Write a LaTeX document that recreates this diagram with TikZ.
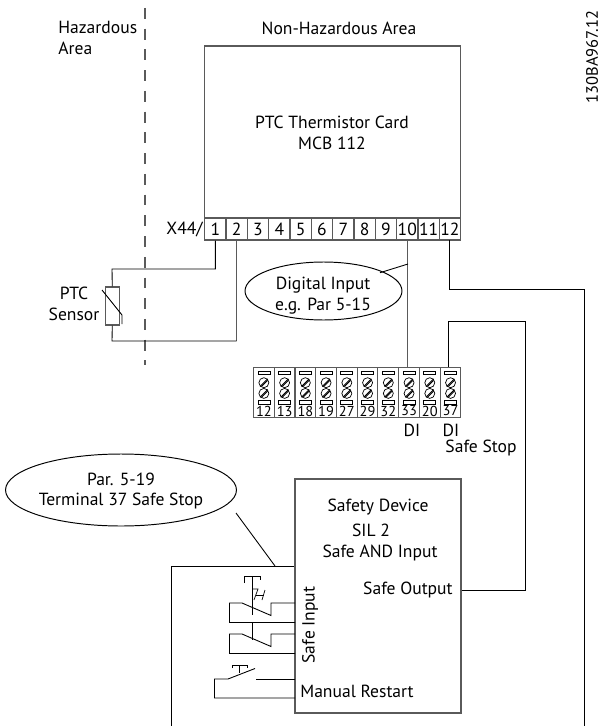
\documentclass[tikz,border=0pt]{standalone}
\usepackage{fontspec}
\setmainfont{PT Sans}
\usetikzlibrary{shapes.geometric}
\definecolor{wiregray}{RGB}{90,90,90}
\tikzset{
    wire/.style={draw=black,line width=0.5pt,line join=miter},
    grayline/.style={draw=wiregray,line width=0.8pt},
    label/.style={inner sep=0pt,font=\fontsize{10}{11.8}\selectfont,align=center},
    small/.style={inner sep=0pt,font=\fontsize{8.2}{9}\selectfont},
    bubble/.style={ellipse,draw=black,line width=0.55pt,inner sep=0pt},
    termcell/.style={rectangle,draw=wiregray,line width=0.7pt,inner sep=0pt,minimum width=21.33*0.2mm,minimum height=22*0.2mm},
    blockcell/.style={rectangle,draw=wiregray,line width=0.6pt,inner sep=0pt,minimum width=20.74*0.2mm,minimum height=50*0.2mm}
}
\begin{document}
\begin{tikzpicture}[x=0.02cm,y=-0.02cm]
    \useasboundingbox (0,0) rectangle (601,726);
    % areas
    \draw[grayline,dash pattern=on 6.2pt off 5.6pt] (145,8) -- (145,365);
    \node[label,anchor=north west,align=left] (hazard) at (58,21) {Hazardous\\Area};
    \node[label] (nonhazard) at (339,28) {Non-Hazardous Area};
    \node[label,rotate=90,font=\fontsize{9.4}{11}\selectfont] (docno) at (592,57) {130BA967.12};
    % card
    \node[rectangle,draw=wiregray,line width=0.8pt,inner sep=0pt,minimum width=256*0.2mm,minimum height=194*0.2mm] (card) at (332.5,143) {};
    \node[label] (cardname) at (332,132.5) {PTC Thermistor Card\\MCB 112};
    \node[label,anchor=east] (xlabel) at (203,229) {X44/};
    \foreach \n in {1,...,12}{
        \node[termcell,font=\fontsize{10}{11}\selectfont] (t\n) at ({204.67+(\n-0.5)*21.33},229) {\n};
    }
    % sensor
    \coordinate (s1) at (112,269);
    \coordinate (s2) at (112,341);
    \node[rectangle,draw=wiregray,line width=0.7pt,fill=white,inner sep=0pt,minimum width=14*0.2mm,minimum height=38*0.2mm] (ptc) at (112.3,306) {};
    \node[label] (ptclabel) at (74,303.5) {PTC\\Sensor};
    \coordinate (w1) at (t1.south |- s1);
    \coordinate (w2) at (t2.south |- s2);
    \draw[wire] (t1.south) -- (w1) -- (s1) -- (ptc.north);
    \draw[grayline] (t2.south) -- (w2);
    \draw[wire] (w2) -- (s2) -- (ptc.south);
    \draw[wire] (102,290) -- (122,315) -- (122,324);
    % digital input
    \node[bubble,fill=white,minimum width=157*0.2mm,minimum height=58*0.2mm] (digital) at (323.5,291) {};
    \node[label] (digitaltext) at (323,296) {Digital Input\\e.g. Par 5-15};
    % terminals
    \foreach \i/\t in {1/12,2/13,3/18,4/19,5/27,6/29,7/32,8/33,9/20,10/37}{
        \node[blockcell] (b\i) at ({253.5+(\i-0.5)*20.74},392.7) {};
        \node[small] at ({253.5+(\i-0.5)*20.74},411) {\t};
        \foreach \d in {0,1}{
            \node[circle,draw=black,line width=0.4pt,minimum size=10*0.2mm,inner sep=0pt] (c\i\d) at ({253.5+(\i-0.5)*20.74},{382.7+\d*10.7}) {};
            \draw[black,line width=0.5pt] (c\i\d.south west) -- (c\i\d.north east);
            \draw[black,line width=0.5pt] ([xshift=1.5*0.567pt]c\i\d.south west) -- ([yshift=-1.5*0.567pt]c\i\d.north east);
        }
        \draw[black,line width=0.4pt] ({253.5+(\i-0.5)*20.74-6},371) rectangle ({253.5+(\i-0.5)*20.74+6},374);
        \draw[black,line width=0.4pt] ({253.5+(\i-0.5)*20.74-6},400.8) rectangle ({253.5+(\i-0.5)*20.74+6},404.3);
    }
    \node[label] (di33) at (412,430) {DI};
    \node[label] (di37) at (451,430) {DI};
    \node[label] (safestop) at (481,448) {Safe Stop};
    \draw[grayline] (t10.south) -- (t10.south |- b8.north);
    \draw[wire] (408,264) -- (380,272.7);
    % safety device
    \draw[wire] (584,726) -- (584,289) -- (449,289) -- (449,240);
    \node[rectangle,draw=wiregray,line width=0.8pt,inner sep=0pt,minimum width=166*0.2mm,minimum height=234*0.2mm] (safety) at (378,596) {};
    \coordinate (so) at (safety.east |- 0,590);
    \draw[wire] (so) -- (525,590) -- (525,321) -- (448,321) -- (448,0 |- b10.north);
    \draw[wire] (171,726) -- (171,566) -- (safety.west |- 0,566);
    \node[label] (safetyname) at (378,507) {Safety Device};
    \node[label] (sil) at (371,530) {SIL 2};
    \node[label] (safeand) at (380,553) {Safe AND Input};
    \node[label,anchor=east] (safeout) at (453,590) {Safe Output};
    \node[label,rotate=90] (safein) at (310,625) {Safe Input};
    \node[label,anchor=west] (restart) at (300,691) {Manual Restart};
    % terminal 37 bubble
    \node[bubble,minimum width=231*0.2mm,minimum height=72*0.2mm] (par) at (121,490) {};
    \node[label] (partext) at (121,491) {Par. 5-19\\Terminal 37 Safe Stop};
    \draw[wire] (236,513) -- (275,566);
    % contacts
    \draw[wire] (295,603) -- (271,603) -- (271,615.5) -- (242,603) -- (229.5,603) -- (229.5,622.5) -- (295,622.5);
    \draw[wire] (295,634) -- (271,634) -- (271,646.5) -- (242,634) -- (229.5,634) -- (229.5,653.5) -- (295,653.5);
    \draw[wire] (295,679) -- (256,679);
    \draw[wire] (255,668.5) -- (228,679) -- (214.5,679) -- (214.5,698) -- (295,698);
    \draw[wire] (244,583) -- (244,576) -- (260,576) -- (260,580);
    \draw[wire] (252,576) -- (252,615);
    \draw[wire] (252,623) -- (252,640);
    \draw[wire] (232,668) -- (232,665.5) -- (247,665.5) -- (247,668);
    \draw[wire] (239.5,665.5) -- (239.5,673);
    \draw[black,line width=0.4pt] (254,600) -- (258,589) -- (252,589);
    \draw[black,line width=0.4pt] (265,590) -- (262,600);
    \draw[black,line width=0.4pt] (256,595) -- (264,595);
\end{tikzpicture}
\end{document}
